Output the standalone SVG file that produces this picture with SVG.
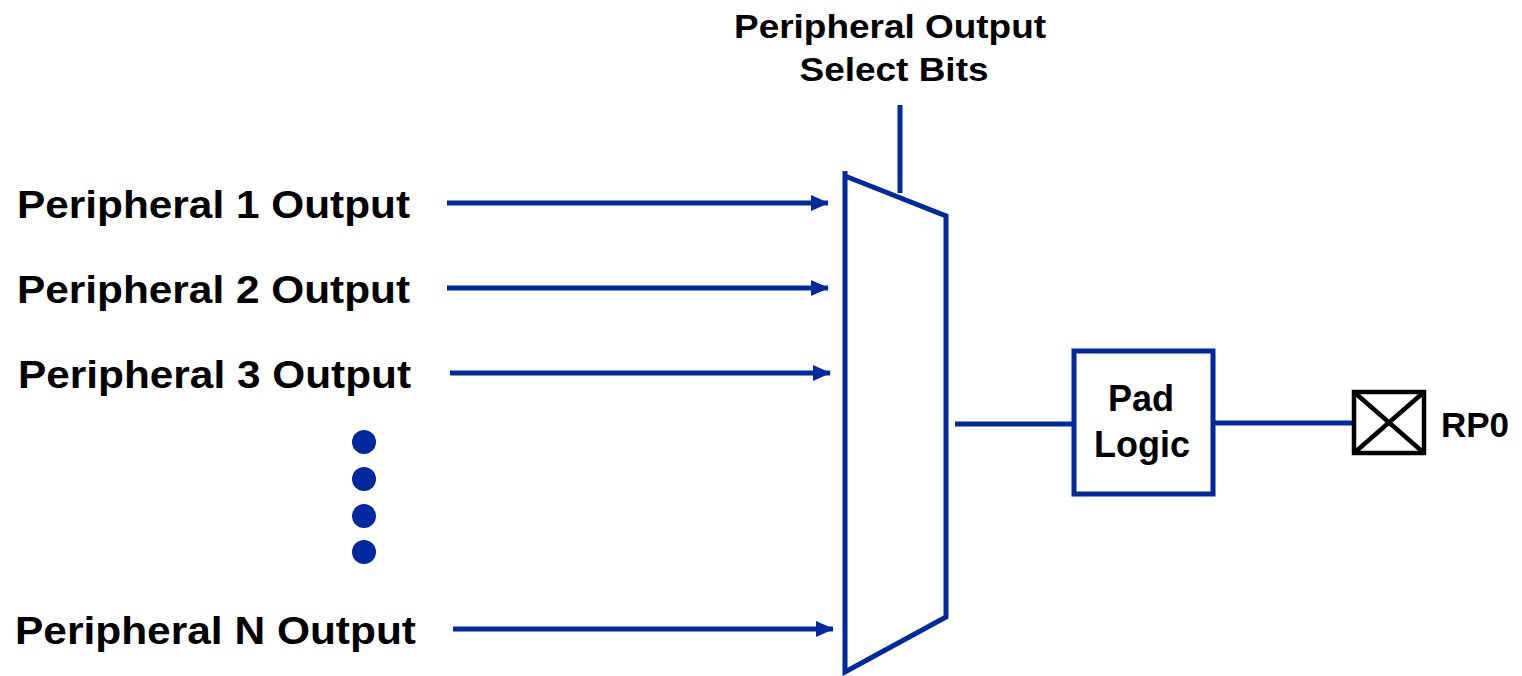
<svg xmlns="http://www.w3.org/2000/svg" width="1522" height="676" viewBox="0 0 1522 676">
<style>
.t{font-family:"Liberation Sans",Arial,sans-serif;font-weight:bold;fill:#000}
.w{stroke:#0029a0;stroke-width:5;fill:none}
.k{stroke:#000;stroke-width:4.5;fill:none}
</style>
<defs>
<marker id="ah" markerUnits="userSpaceOnUse" viewBox="0 0 18 16" markerWidth="18" markerHeight="16" refX="17" refY="8" orient="auto">
<path d="M0,0 L18,8 L0,16 Z" fill="#0029a0"/>
</marker>
</defs>
<rect width="1522" height="676" fill="#fff"/>
<g id="connectors">
<line class="w" x1="447" y1="203" x2="828" y2="203" marker-end="url(#ah)"/>
<line class="w" x1="447" y1="288" x2="828" y2="288" marker-end="url(#ah)"/>
<line class="w" x1="450" y1="373" x2="830" y2="373" marker-end="url(#ah)"/>
<line class="w" x1="453" y1="629" x2="833" y2="629" marker-end="url(#ah)"/>
<line class="w" x1="900" y1="105" x2="900" y2="193"/>
<line class="w" x1="955" y1="424" x2="1074" y2="424"/>
<line class="w" x1="1213" y1="423" x2="1353" y2="423"/>
</g>
<g id="labels">
<text class="t" x="17" y="218" font-size="38" textLength="393" lengthAdjust="spacingAndGlyphs">Peripheral 1 Output</text>
<text class="t" x="17" y="303" font-size="38" textLength="393" lengthAdjust="spacingAndGlyphs">Peripheral 2 Output</text>
<text class="t" x="18" y="388" font-size="38" textLength="393" lengthAdjust="spacingAndGlyphs">Peripheral 3 Output</text>
<text class="t" x="15" y="644" font-size="38" textLength="401" lengthAdjust="spacingAndGlyphs">Peripheral N Output</text>
</g>
<g id="dots" fill="#0029a0">
<circle cx="364" cy="442" r="12"/>
<circle cx="364" cy="479" r="12"/>
<circle cx="364" cy="516" r="12"/>
<circle cx="364" cy="552" r="12"/>
</g>
<g id="select">
<text class="t" x="890" y="38" font-size="34" text-anchor="middle" textLength="312" lengthAdjust="spacingAndGlyphs">Peripheral Output</text>
<text class="t" x="894" y="81" font-size="34" text-anchor="middle" textLength="189" lengthAdjust="spacingAndGlyphs">Select Bits</text>
</g>
<g id="mux">
<path class="w" d="M845,171 L845,672 L946,617 L946,216 L845,176"/>
</g>
<g id="padlogic">
<rect class="w" x="1074" y="351" width="139" height="143"/>
<text class="t" x="1141" y="411" font-size="36" text-anchor="middle">Pad</text>
<text class="t" x="1142" y="457" font-size="36" text-anchor="middle">Logic</text>
</g>
<g id="rp0">
<rect class="k" x="1354" y="392" width="70" height="61"/>
<line class="k" x1="1354" y1="392" x2="1424" y2="453"/>
<line class="k" x1="1354" y1="453" x2="1424" y2="392"/>
<text class="t" x="1441" y="437" font-size="35">RP0</text>
</g>
</svg>
